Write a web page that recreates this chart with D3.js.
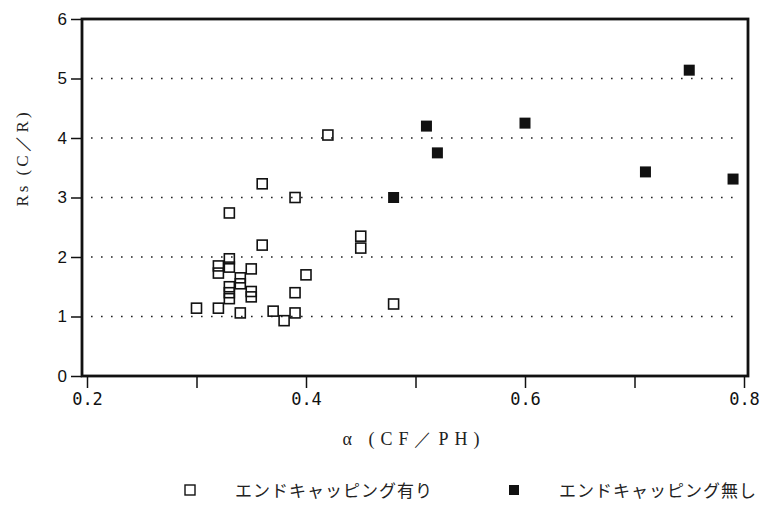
<!DOCTYPE html>
<html>
<head>
<meta charset="utf-8">
<script src="https://cdn.jsdelivr.net/npm/d3@7"></script>
<style>
  body { margin: 0; background: #fff; }
  svg { display: block; }
</style>
</head>
<body>
<div id="chart"></div>
<script>
// open squares: with end capping
const withCapX = [0.30, 0.32, 0.32, 0.32, 0.33, 0.33, 0.33, 0.33, 0.33, 0.33, 0.34, 0.34, 0.34, 0.35,
                  0.35, 0.35, 0.36, 0.36, 0.37, 0.38, 0.39, 0.39, 0.39, 0.40, 0.42, 0.45, 0.45, 0.48];
const withCapY = [1.14, 1.14, 1.73, 1.85, 1.97, 1.83, 1.50, 1.40, 1.30, 2.74, 1.65, 1.55, 1.06, 1.80,
                  1.42, 1.33, 3.23, 2.20, 1.09, 0.93, 1.06, 1.40, 3.00, 1.70, 4.05, 2.35, 2.15, 1.21];
// filled squares: without end capping
const noCapX = [0.48, 0.51, 0.52, 0.60, 0.71, 0.75, 0.79];
const noCapY = [3.00, 4.20, 3.75, 4.25, 3.43, 5.14, 3.31];

const xTicks = [0.2, 0.3, 0.4, 0.5, 0.6, 0.7, 0.8];
const xLabels = ["0.2", "", "0.4", "", "0.6", "", "0.8"];
const yTicks = [0, 1, 2, 3, 4, 5, 6];
const gridValues = [1, 2, 3, 4, 5];
const legendLabels = ["エンドキャッピング有り", "エンドキャッピング無し"];

const width = 775, height = 506;
const frame = { left: 82, right: 748, top: 19, bottom: 376 };

const svg = d3.select("#chart").append("svg")
    .attr("width", width)
    .attr("height", height);

const x = d3.scaleLinear().domain([0.2, 0.8]).range([87, 744]);
const y = d3.scaleLinear().domain([0, 6]).range([frame.bottom, frame.top]);

// dotted grid
svg.append("g")
    .selectAll("line")
    .data(gridValues)
    .join("line")
    .attr("x1", frame.left + 9)
    .attr("x2", frame.right - 8)
    .attr("y1", d => y(d))
    .attr("y2", d => y(d))
    .attr("stroke", "#222")
    .attr("stroke-width", 1.6)
    .attr("stroke-dasharray", "1.6,8.4");

// axes
const bottomAxis = d3.axisBottom(x)
    .tickValues(xTicks)
    .tickSize(12)
    .tickPadding(5)
    .tickFormat((d, i) => xLabels[i]);

const gx = svg.append("g")
    .attr("transform", `translate(0, ${frame.bottom})`)
    .call(bottomAxis);
gx.select(".domain").remove();
gx.selectAll("line").attr("stroke", "#111").attr("stroke-width", 1.5);
gx.selectAll("text")
    .attr("font-family", "DejaVu Sans Mono")
    .attr("font-size", 17)
    .attr("fill", "#111");

const leftAxis = d3.axisLeft(y)
    .tickValues(yTicks)
    .tickSize(11)
    .tickPadding(4)
    .tickFormat(d3.format("d"));

const gy = svg.append("g")
    .attr("transform", `translate(${frame.left}, 0)`)
    .call(leftAxis);
gy.select(".domain").remove();
gy.selectAll("line").attr("stroke", "#111").attr("stroke-width", 1.5);
gy.selectAll("text")
    .attr("font-family", "Liberation Sans")
    .attr("font-size", 17)
    .attr("fill", "#111");

// frame
svg.append("rect")
    .attr("x", frame.left)
    .attr("y", frame.top)
    .attr("width", frame.right - frame.left)
    .attr("height", frame.bottom - frame.top)
    .attr("fill", "none")
    .attr("stroke", "#111")
    .attr("stroke-width", 2.8);

// points
const sq = 10;
svg.append("g")
    .selectAll("rect")
    .data(d3.zip(withCapX, withCapY))
    .join("rect")
    .attr("x", d => x(d[0]) - sq / 2)
    .attr("y", d => y(d[1]) - sq / 2)
    .attr("width", sq)
    .attr("height", sq)
    .attr("fill", "none")
    .attr("stroke", "#111")
    .attr("stroke-width", 1.6);

svg.append("g")
    .selectAll("rect")
    .data(d3.zip(noCapX, noCapY))
    .join("rect")
    .attr("x", d => x(d[0]) - sq / 2 - 0.5)
    .attr("y", d => y(d[1]) - sq / 2 - 0.5)
    .attr("width", sq + 1)
    .attr("height", sq + 1)
    .attr("fill", "#111");

// axis titles
svg.append("text")
    .attr("x", 414)
    .attr("y", 445)
    .attr("text-anchor", "middle")
    .attr("font-family", "Liberation Serif")
    .attr("font-size", 18)
    .attr("letter-spacing", 6)
    .attr("fill", "#222")
    .text("α (CF／PH)");

svg.append("text")
    .attr("transform", "translate(28, 158) rotate(-90)")
    .attr("text-anchor", "middle")
    .attr("font-family", "Liberation Serif")
    .attr("font-size", 17)
    .attr("letter-spacing", 3)
    .attr("fill", "#222")
    .text("Rs (C／R)");

// legend
const legend = svg.append("g");
const legendX = [190, 514];
legend.selectAll("rect")
    .data(legendLabels)
    .join("rect")
    .attr("x", (d, i) => legendX[i] - 5)
    .attr("y", 485)
    .attr("width", 10)
    .attr("height", 10)
    .attr("fill", (d, i) => i === 0 ? "none" : "#111")
    .attr("stroke", "#111")
    .attr("stroke-width", (d, i) => i === 0 ? 1.4 : 0);
legend.selectAll("text")
    .data(legendLabels)
    .join("text")
    .attr("x", (d, i) => legendX[i] + 45)
    .attr("y", 497)
    .attr("font-family", "Noto Sans CJK JP")
    .attr("font-size", 17)
    .attr("letter-spacing", 1)
    .attr("fill", "#222")
    .text(d => d);
</script>
</body>
</html>
